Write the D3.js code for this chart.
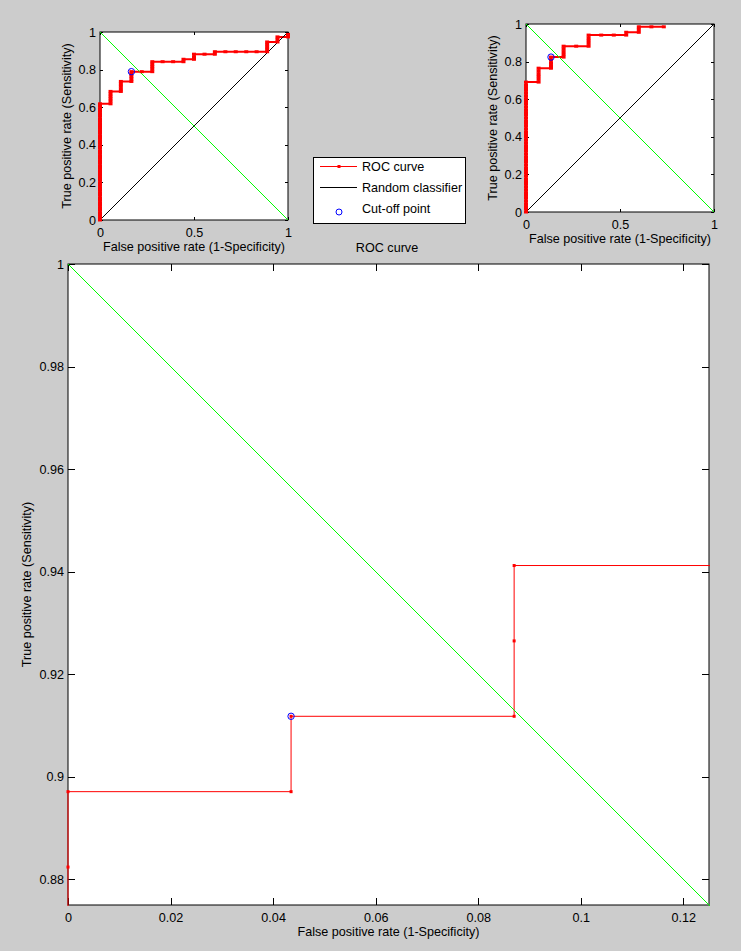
<!DOCTYPE html>
<html>
<head>
<meta charset="utf-8">
<script src="https://cdn.jsdelivr.net/npm/d3@7"></script>
<style>
  html, body { margin: 0; padding: 0; background: #cccccc; }
  svg { display: block; font-family: "Liberation Sans", Arial, Helvetica, sans-serif; }
</style>
</head>
<body>
<svg id="fig" width="741" height="951"></svg>
<script>
// ---- data ----
// top-left ROC curve
const roc1Fpr = [0, 0, 0, 0, 0, 0, 0, 0, 0, 0, 0, 0, 0, 0, 0, 0, 0, 0, 0, 0, 0, 0, 0, 0,
  0, 0, 0, 0, 0, 0, 0, 0, 0, 0, 0, 0, 0, 0, 0, 0, 0, 0, 0, 0, 0, 0, 0, 0,
  0.056, 0.056, 0.056, 0.056, 0.056, 0.056,
  0.111, 0.111, 0.111, 0.111, 0.111,
  0.167, 0.167, 0.167, 0.167, 0.167,
  0.222,
  0.278, 0.278, 0.278, 0.278, 0.278,
  0.333, 0.389, 0.444, 0.444,
  0.5, 0.5, 0.5,
  0.556, 0.611, 0.611,
  0.667, 0.722, 0.778, 0.833,
  0.889, 0.889, 0.889, 0.889, 0.889,
  0.944, 0.944, 0.944,
  1, 1];
const roc1Tpr = [0, 0.013, 0.026, 0.039, 0.053, 0.066, 0.079, 0.092, 0.105, 0.118, 0.132, 0.145,
  0.158, 0.171, 0.184, 0.197, 0.211, 0.224, 0.237, 0.25, 0.263, 0.276, 0.289, 0.303,
  0.316, 0.329, 0.342, 0.355, 0.368, 0.382, 0.395, 0.408, 0.421, 0.434, 0.447, 0.461,
  0.474, 0.487, 0.5, 0.513, 0.526, 0.539, 0.553, 0.566, 0.579, 0.592, 0.605, 0.618,
  0.618, 0.632, 0.645, 0.658, 0.671, 0.684,
  0.684, 0.697, 0.711, 0.724, 0.737,
  0.737, 0.75, 0.763, 0.776, 0.789,
  0.789,
  0.789, 0.803, 0.816, 0.829, 0.842,
  0.842, 0.842, 0.842, 0.855,
  0.855, 0.868, 0.882,
  0.882, 0.882, 0.895,
  0.895, 0.895, 0.895, 0.895,
  0.895, 0.908, 0.921, 0.934, 0.947,
  0.947, 0.961, 0.974,
  0.974, 0.987];
const cut1 = [0.167, 0.789];

// top-right ROC curve
const roc2Fpr = [0, 0, 0, 0, 0, 0, 0, 0, 0, 0, 0, 0, 0, 0, 0, 0, 0, 0, 0, 0, 0, 0, 0, 0,
  0, 0, 0, 0, 0, 0, 0, 0, 0, 0, 0, 0, 0, 0, 0, 0, 0, 0, 0, 0, 0, 0, 0, 0,
  0.067, 0.067, 0.067, 0.067, 0.067, 0.067,
  0.133, 0.133, 0.133, 0.133, 0.133,
  0.2, 0.2, 0.2, 0.2, 0.2,
  0.267,
  0.333, 0.333, 0.333, 0.333, 0.333,
  0.4, 0.467, 0.533, 0.533,
  0.6, 0.6, 0.6,
  0.667, 0.733];
const roc2Tpr = [0, 0.015, 0.029, 0.044, 0.059, 0.074, 0.088, 0.103, 0.118, 0.132, 0.147, 0.162,
  0.176, 0.191, 0.206, 0.221, 0.235, 0.25, 0.265, 0.279, 0.294, 0.309, 0.324, 0.338,
  0.353, 0.368, 0.382, 0.397, 0.412, 0.426, 0.441, 0.456, 0.471, 0.485, 0.5, 0.515,
  0.529, 0.544, 0.559, 0.574, 0.588, 0.603, 0.618, 0.632, 0.647, 0.662, 0.676, 0.691,
  0.691, 0.706, 0.721, 0.735, 0.75, 0.765,
  0.765, 0.779, 0.794, 0.809, 0.824,
  0.824, 0.838, 0.853, 0.868, 0.882,
  0.882,
  0.882, 0.897, 0.912, 0.926, 0.941,
  0.941, 0.941, 0.941, 0.956,
  0.956, 0.971, 0.985,
  0.985, 0.985];
const cut2 = [0.133, 0.824];

// zoomed-in view (curve runs on past the visible window at both ends)
const zoomFpr = [0, 0, 0, 0.0435, 0.0435, 0.087, 0.087, 0.087, 0.1304];
const zoomTpr = [0.8676, 0.8824, 0.8971, 0.8971, 0.9118, 0.9118, 0.9265, 0.9412, 0.9412];
const cutZoom = [0.0435, 0.9118];

const smallTicksX = [0, 0.5, 1];
const smallTicksY = [0, 0.2, 0.4, 0.6, 0.8, 1];
const zoomTicksX = [0, 0.02, 0.04, 0.06, 0.08, 0.1, 0.12];
const zoomTicksY = [0.88, 0.9, 0.92, 0.94, 0.96, 0.98, 1];

const legendLabels = ['ROC curve', 'Random classifier', 'Cut-off point'];

const xLabel = 'False positive rate (1-Specificity)';
const yLabel = 'True positive rate (Sensitivity)';

const FONT = '12.6px';

class RocPlot {
  constructor(_config) {
    this.config = {
      selection: _config.selection,
      left: _config.left,
      top: _config.top,
      size: _config.size,
      xDomain: _config.xDomain,
      yDomain: _config.yDomain,
      xTicks: _config.xTicks,
      yTicks: _config.yTicks,
      tickLen: _config.tickLen || 3,
      curveWidth: _config.curveWidth || 1,
      markerW: _config.markerW || 3,
      markerH: _config.markerH || 3,
      yLabelOffset: _config.yLabelOffset || 30,
      id: _config.id
    };
    this.fpr = _config.fpr;
    this.tpr = _config.tpr;
    this.cut = _config.cut;
  }

  render() {
    let vis = this;
    const c = vis.config;

    vis.x = d3.scaleLinear().domain(c.xDomain).range([0, c.size]);
    vis.y = d3.scaleLinear().domain(c.yDomain).range([c.size, 0]);

    vis.g = d3.select(c.selection).append('g')
      .attr('transform', `translate(${c.left}, ${c.top})`);

    vis.g.append('defs').append('clipPath')
      .attr('id', `clip-${c.id}`)
      .append('rect')
      .attr('x', -1)
      .attr('y', -1)
      .attr('width', c.size + 2)
      .attr('height', c.size + 2);

    vis.g.append('rect')
      .attr('width', c.size)
      .attr('height', c.size)
      .attr('fill', 'white');

    // axes, ticks point inward on all four sides
    const fmt = d3.format('~g');
    const styleAxis = (sel) => {
      sel.select('.domain').remove();
      sel.selectAll('line').attr('stroke', 'black').attr('shape-rendering', 'crispEdges');
      sel.selectAll('text').attr('fill', 'black').style('font-size', FONT);
    };

    vis.g.append('g')
      .attr('transform', `translate(0, ${c.size})`)
      .call(d3.axisBottom(vis.x).tickValues(c.xTicks).tickFormat(fmt).tickSizeInner(-c.tickLen).tickSizeOuter(0).tickPadding(8))
      .call(styleAxis);
    vis.g.append('g')
      .call(d3.axisTop(vis.x).tickValues(c.xTicks).tickFormat('').tickSizeInner(-c.tickLen).tickSizeOuter(0))
      .call(styleAxis);
    vis.g.append('g')
      .call(d3.axisLeft(vis.y).tickValues(c.yTicks).tickFormat(fmt).tickSizeInner(-c.tickLen).tickSizeOuter(0).tickPadding(4))
      .call(styleAxis);
    vis.g.append('g')
      .attr('transform', `translate(${c.size}, 0)`)
      .call(d3.axisRight(vis.y).tickValues(c.yTicks).tickFormat('').tickSizeInner(-c.tickLen).tickSizeOuter(0))
      .call(styleAxis);

    vis.g.append('rect')
      .attr('width', c.size)
      .attr('height', c.size)
      .attr('fill', 'none')
      .attr('stroke', 'black')
      .attr('stroke-width', 1);

    const plotG = vis.g.append('g').attr('clip-path', `url(#clip-${c.id})`);

    const pts = vis.fpr.map((f, i) => [f, vis.tpr[i]]);
    const inView = pts.filter(d => d[0] >= c.xDomain[0] && d[0] <= c.xDomain[1]
      && d[1] >= c.yDomain[0] && d[1] <= c.yDomain[1]);

    // ROC curve
    plotG.append('path')
      .attr('d', d3.line().x(d => vis.x(d[0])).y(d => vis.y(d[1]))(pts))
      .attr('fill', 'none')
      .attr('stroke', '#ff0000')
      .attr('stroke-width', c.curveWidth);

    vis.g.selectAll('.dot')
      .data(inView)
      .join('rect')
      .attr('class', 'dot')
      .attr('x', d => vis.x(d[0]) - c.markerW / 2)
      .attr('y', d => vis.y(d[1]) - c.markerH / 2)
      .attr('width', c.markerW)
      .attr('height', c.markerH)
      .attr('fill', '#ff0000');

    // Random classifier (y = x)
    plotG.append('path')
      .attr('d', d3.line()([[vis.x(0), vis.y(0)], [vis.x(1), vis.y(1)]]))
      .attr('stroke', 'black')
      .attr('stroke-width', 1)
      .attr('fill', 'none');

    // y = 1 - x
    plotG.append('path')
      .attr('d', d3.line()([[vis.x(0), vis.y(1)], [vis.x(1), vis.y(0)]]))
      .attr('stroke', '#00ff00')
      .attr('stroke-width', 1)
      .attr('fill', 'none');

    // Cut-off point
    vis.g.append('circle')
      .attr('cx', vis.x(vis.cut[0]))
      .attr('cy', vis.y(vis.cut[1]))
      .attr('r', 3.2)
      .attr('fill', 'none')
      .attr('stroke', '#0000ff')
      .attr('stroke-width', 1);

    // labels
    vis.g.append('text')
      .text(xLabel)
      .attr('x', c.size / 2)
      .attr('y', c.size + 31)
      .attr('text-anchor', 'middle')
      .style('font-size', FONT);

    vis.g.append('text')
      .text(yLabel)
      .attr('transform', `translate(${-c.yLabelOffset}, ${c.size / 2}) rotate(-90)`)
      .attr('text-anchor', 'middle')
      .style('font-size', FONT);
  }
}

const svg = d3.select('#fig');
svg.append('rect').attr('width', 741).attr('height', 951).attr('fill', '#cccccc');

new RocPlot({
  selection: '#fig', id: 'p1', left: 100, top: 32, size: 188,
  xDomain: [0, 1], yDomain: [0, 1], xTicks: smallTicksX, yTicks: smallTicksY,
  tickLen: 3, curveWidth: 2, markerW: 4, markerH: 3, yLabelOffset: 29,
  fpr: roc1Fpr, tpr: roc1Tpr, cut: cut1
}).render();

new RocPlot({
  selection: '#fig', id: 'p2', left: 526, top: 24, size: 188,
  xDomain: [0, 1], yDomain: [0, 1], xTicks: smallTicksX, yTicks: smallTicksY,
  tickLen: 3, curveWidth: 2, markerW: 4, markerH: 3, yLabelOffset: 29,
  fpr: roc2Fpr, tpr: roc2Tpr, cut: cut2
}).render();

new RocPlot({
  selection: '#fig', id: 'p3', left: 68, top: 264, size: 641,
  xDomain: [0, 0.125], yDomain: [0.875, 1], xTicks: zoomTicksX, yTicks: zoomTicksY,
  tickLen: 7, curveWidth: 1, markerW: 3, markerH: 3, yLabelOffset: 37,
  fpr: zoomFpr, tpr: zoomTpr, cut: cutZoom
}).render();

// Legend
const legend = svg.append('g').attr('transform', 'translate(313, 157)');
legend.append('rect')
  .attr('x', 0.5).attr('y', 0.5)
  .attr('width', 152).attr('height', 66)
  .attr('fill', 'white').attr('stroke', 'black');

legendLabels.forEach((label, i) => {
  const yy = 9 + i * 21;
  legend.append('text')
    .text(label)
    .attr('x', 49)
    .attr('y', yy + 4.5)
    .style('font-size', FONT);
});
legend.append('path')
  .attr('d', d3.line()([[7, 9.5], [44, 9.5]]))
  .attr('stroke', '#ff0000').attr('stroke-width', 1);
legend.append('rect')
  .attr('x', 24.5).attr('y', 8).attr('width', 3).attr('height', 3)
  .attr('fill', '#ff0000');
legend.append('path')
  .attr('d', d3.line()([[7, 30.5], [44, 30.5]]))
  .attr('stroke', 'black').attr('stroke-width', 1);
legend.append('circle')
  .attr('cx', 26).attr('cy', 55).attr('r', 3)
  .attr('fill', 'none').attr('stroke', '#0000ff');

// title of the (hidden) legend axes
svg.append('text')
  .text('ROC curve')
  .attr('x', 387)
  .attr('y', 252)
  .attr('text-anchor', 'middle')
  .style('font-size', FONT);
</script>
</body>
</html>
